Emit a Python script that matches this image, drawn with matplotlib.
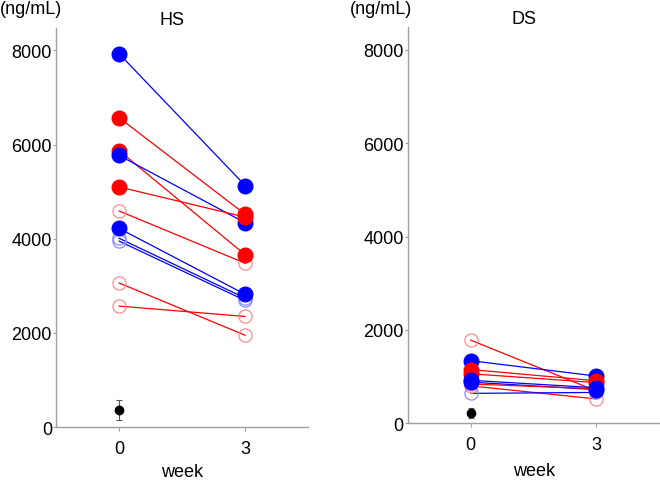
import numpy as np
import matplotlib
matplotlib.use("Agg")
import matplotlib.pyplot as plt

plt.rcParams['font.family'] = ['Liberation Sans', 'DejaVu Sans']

# weeks on the x axis
weeks = [0, 3]

# HS panel: value at week 0 and week 3 per subject
hs_w0 = [7930, 6570, 5870, 5770, 5100, 4590, 4220, 4010, 3950, 3060, 2570]
hs_w3 = [5130, 4520, 3660, 4340, 4460, 3480, 2820, 2740, 2690, 1950, 2350]
hs_group = ['b', 'a', 'a', 'b', 'a', 'a', 'b', 'b', 'b', 'a', 'a']
hs_kind = ['filled', 'filled', 'filled', 'filled', 'filled', 'open',
           'filled', 'open', 'open', 'open', 'open']
hs_ctrl_mean = 355
hs_ctrl_err = 210

# DS panel
ds_w0 = [1780, 1340, 1150, 1060, 920, 880, 840, 800, 640]
ds_w3 = [690, 1010, 910, 870, 760, 720, 740, 520, 660]
ds_group = ['a', 'b', 'a', 'a', 'b', 'b', 'a', 'a', 'b']
ds_kind = ['open', 'filled', 'filled', 'filled', 'filled', 'filled',
           'open', 'open', 'open']
ds_ctrl_mean = 215
ds_ctrl_err = 105

panels = [("HS", hs_w0, hs_w3, hs_group, hs_kind, hs_ctrl_mean, hs_ctrl_err),
          ("DS", ds_w0, ds_w3, ds_group, ds_kind, ds_ctrl_mean, ds_ctrl_err)]

colors = {'a': '#ff0000', 'b': '#0000ff'}
light = {'a': '#ff8c8c', 'b': '#8c8cff'}
grey = '#a0a0a0'
fs = 13

fig = plt.figure(figsize=(6.6, 4.81), dpi=100)
rects = [[0.085, 0.110, 0.382, 0.830], [0.618, 0.118, 0.381, 0.823]]
unit_x = [0.047, 0.578]
week_pad = [4.5, 7]

for rect, ux, wp, (name, w0, w3, grp, kind, cm, ce) in zip(rects, unit_x, week_pad, panels):
    ax = fig.add_axes(rect)
    # connecting lines first
    for a, b, g in zip(w0, w3, grp):
        ax.plot(weeks, [a, b], color=colors[g], lw=0.9, zorder=2)
    # open markers
    for a, b, g, k in zip(w0, w3, grp, kind):
        if k == 'open':
            ax.plot(weeks, [a, b], ls='none', marker='o', ms=9.5,
                    mfc='none', mec=light[g], mew=0.9, zorder=3)
    # filled markers on top
    for a, b, g, k in zip(w0, w3, grp, kind):
        if k == 'filled':
            ax.plot(weeks, [a, b], ls='none', marker='o', ms=10.5,
                    mfc=colors[g], mec=colors[g], zorder=4)
    ax.errorbar([0], [cm], yerr=[ce], fmt='o', color='black', ms=6,
                ecolor='#555555', elinewidth=0.8, capsize=2.5, capthick=0.8,
                zorder=5)

    ax.set_xlim(-1.5, 4.5)
    ax.set_ylim(0, 8480)
    ax.set_xticks(weeks)
    ax.set_yticks([0, 2000, 4000, 6000, 8000])
    for s in ['top', 'right']:
        ax.spines[s].set_visible(False)
    for s in ['left', 'bottom']:
        ax.spines[s].set_color(grey)
        ax.spines[s].set_linewidth(1.0)
    ax.tick_params(colors=grey, labelcolor='black', labelsize=fs,
                   length=2, width=0.8, pad=1)
    ax.tick_params(axis='x', pad=6, length=3)
    ax.set_xlabel("week", fontsize=fs, labelpad=wp)
    ax.text(1.26, 1.022, name, transform=ax.get_xaxis_transform(),
            fontsize=fs, ha='center', va='center')
    fig.text(ux, 0.98, "(ng/mL)", fontsize=fs, ha='center', va='center')

fig.savefig("out.png", dpi=100)
